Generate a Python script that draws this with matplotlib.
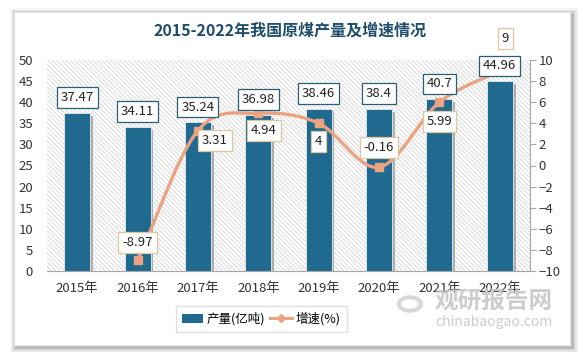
import numpy as np
import matplotlib
matplotlib.use("Agg")
import matplotlib.pyplot as plt
import matplotlib.patches as mpatches
import matplotlib.patheffects as pe
from matplotlib.lines import Line2D
from matplotlib.collections import LineCollection

plt.rcParams["font.family"] = ["Noto Sans CJK SC", "DejaVu Sans"]

# ---------------------------------------------------------------------------
# Data
# ---------------------------------------------------------------------------
years = ["2015年", "2016年", "2017年", "2018年", "2019年", "2020年", "2021年", "2022年"]
output = [37.47, 34.11, 35.24, 36.98, 38.46, 38.4, 40.7, 44.96]
growth = [np.nan, -8.97, 3.31, 4.94, 4, -0.16, 5.99, 9]
growth_labels = ["", "-8.97", "3.31", "4.94", "4", "-0.16", "5.99", "9"]
# label offsets (points) for the growth labels: (dx, dy)
growth_offsets = [(0, 0), (0, 13), (12, -7), (4, -12), (0, -13), (0, 14), (0, -14), (4, 23)]

C_BAR = "#1f6a8e"
C_LINE = "#eba382"
C_TITLE = "#1f4e6a"
C_TEXT = "#333333"

fig = plt.figure(figsize=(5.83, 3.52), dpi=100)
fig.patch.set_facecolor("white")

# card with soft shadow
for i, a in enumerate([0.04, 0.06, 0.08, 0.11]):
    pad = (4 - i) * 1.5
    fig.patches.append(mpatches.Rectangle(
        ((14 - pad + 2) / 583, 1 - (345 + pad + 2) / 352),
        (556 + 2 * pad) / 583, (333 + 2 * pad) / 352,
        transform=fig.transFigure, facecolor="black", alpha=a,
        edgecolor="none", zorder=0))
fig.patches.append(mpatches.Rectangle(
    (14 / 583, 1 - 345 / 352), 556 / 583, 333 / 352,
    transform=fig.transFigure, facecolor="white", edgecolor="#e6e6e6",
    lw=0.8, zorder=0.5))

AX_W, AX_H = 483, 211
ax = fig.add_axes([47 / 583, 1 - 271 / 352, AX_W / 583, AX_H / 352])
ax2 = ax.twinx()

x = np.arange(len(years))

# hatched plot background (thin diagonal lines, top-left to bottom-right)
segs = []
for c in np.arange(-AX_H, AX_W + 1, 4.5):
    segs.append([(c / AX_W, 1), ((c + AX_H) / AX_W, 0)])
hatch = LineCollection(segs, colors="#d4d4d4", linewidths=0.6,
                       transform=ax.transAxes, zorder=0)
hatch.set_clip_path(ax.patch)
ax.add_collection(hatch)

ax.bar(x, output, width=0.43, color=C_BAR, edgecolor="#e8eef2", lw=0.6, zorder=2,
       path_effects=[pe.SimplePatchShadow(offset=(2, -2), shadow_rgbFace="#808080", alpha=0.6),
                     pe.Normal()])

ax.set_xlim(-0.5, len(years) - 0.5)
ax.set_ylim(0, 50)
ax.set_yticks(np.arange(0, 51, 5))
ax.set_xticks(x)
ax.set_xticklabels(years)
ax.tick_params(axis="y", length=0, labelsize=9.5, colors=C_TEXT, pad=10)
ax.tick_params(axis="x", length=0, labelsize=9.5, colors=C_TEXT, pad=8)
for s in ["top", "left", "right"]:
    ax.spines[s].set_visible(False)
ax.spines["bottom"].set_color("#a6a6a6")

# smoothed growth line (Catmull-Rom through the data points)
gx = x[1:].astype(float)
gy = np.array(growth[1:], dtype=float)
px = np.concatenate([[2 * gx[0] - gx[1]], gx, [2 * gx[-1] - gx[-2]]])
py = np.concatenate([[2 * gy[0] - gy[1]], gy, [2 * gy[-1] - gy[-2]]])
sx, sy = [], []
t = np.linspace(0, 1, 30)
for i in range(1, len(px) - 2):
    p0, p1, p2, p3 = px[i - 1], px[i], px[i + 1], px[i + 2]
    q0, q1, q2, q3 = py[i - 1], py[i], py[i + 1], py[i + 2]
    sx.append(0.5 * (2 * p1 + (-p0 + p2) * t + (2 * p0 - 5 * p1 + 4 * p2 - p3) * t ** 2
                     + (-p0 + 3 * p1 - 3 * p2 + p3) * t ** 3))
    sy.append(0.5 * (2 * q1 + (-q0 + q2) * t + (2 * q0 - 5 * q1 + 4 * q2 - q3) * t ** 2
                     + (-q0 + 3 * q1 - 3 * q2 + q3) * t ** 3))
ax2.plot(np.concatenate(sx), np.concatenate(sy), color=C_LINE, lw=2.4, zorder=3,
         solid_capstyle="round")
ax2.plot(x, growth, ls="none", marker="s", ms=6, color=C_LINE, zorder=4)

for xi, v, lab, (dx, dy) in zip(x, growth, growth_labels, growth_offsets):
    if not lab:
        continue
    ax2.annotate(lab, (xi, v), xytext=(dx, dy), textcoords="offset points",
                 ha="center", va="center", fontsize=9.5, color="#222222", zorder=7,
                 annotation_clip=False,
                 bbox=dict(boxstyle="square,pad=0.3", fc="white", ec="#dcc7a4", lw=0.9))

# bar value labels, drawn on the top axes so they cover the line
for xi, v in zip(x, output):
    ax2.annotate(f"{v:g}", (xi, v), xycoords=ax.transData, xytext=(0, 11),
                 textcoords="offset points", ha="center", va="center",
                 fontsize=9.5, color="#222222", zorder=8,
                 bbox=dict(boxstyle="square,pad=0.3", fc="white", ec="#2b5d74", lw=0.9))

ax2.set_ylim(-10, 10)
ax2.set_yticks(np.arange(-10, 11, 2))
ax2.tick_params(axis="y", length=4, labelsize=9.5, colors=C_TEXT, pad=2)
ax2.tick_params(axis="y", color="#a6a6a6")
for s in ["top", "left", "bottom"]:
    ax2.spines[s].set_visible(False)
ax2.spines["right"].set_color("#a6a6a6")

ax.set_zorder(1)
ax2.set_zorder(2)

fig.text(290 / 583, 1 - 31 / 352, "2015-2022年我国原煤产量及增速情况",
         ha="center", va="center", fontsize=11.5, fontweight="bold", color=C_TITLE)

handles = [mpatches.Patch(facecolor=C_BAR, label="产量(亿吨)"),
           Line2D([0], [0], color=C_LINE, lw=2.2, marker="D", ms=4, label="增速(%)")]
fig.legend(handles=handles, loc="center", bbox_to_anchor=(261 / 583, 1 - 319 / 352),
           ncol=2, fontsize=9, frameon=True, edgecolor="#d9d9d9", fancybox=False,
           handlelength=1.7, handletextpad=0.3, columnspacing=0.4, borderpad=0.5)

# watermark
fig.patches.append(mpatches.Circle((410 / 583, 1 - 304 / 352), 11 / 583,
                                   transform=fig.transFigure, facecolor="none",
                                   edgecolor="#cfcfcf", lw=3, alpha=0.8))
fig.text(494 / 583, 1 - 301 / 352, "观研报告网", ha="center", va="center",
         fontsize=17, fontweight="bold", color="#c4c4c4", alpha=0.85)
fig.text(494 / 583, 1 - 322 / 352, "chinabaogao.com", ha="center", va="center",
         fontsize=10, color="#c4c4c4", alpha=0.85)

fig.savefig("out.png", dpi=100)
